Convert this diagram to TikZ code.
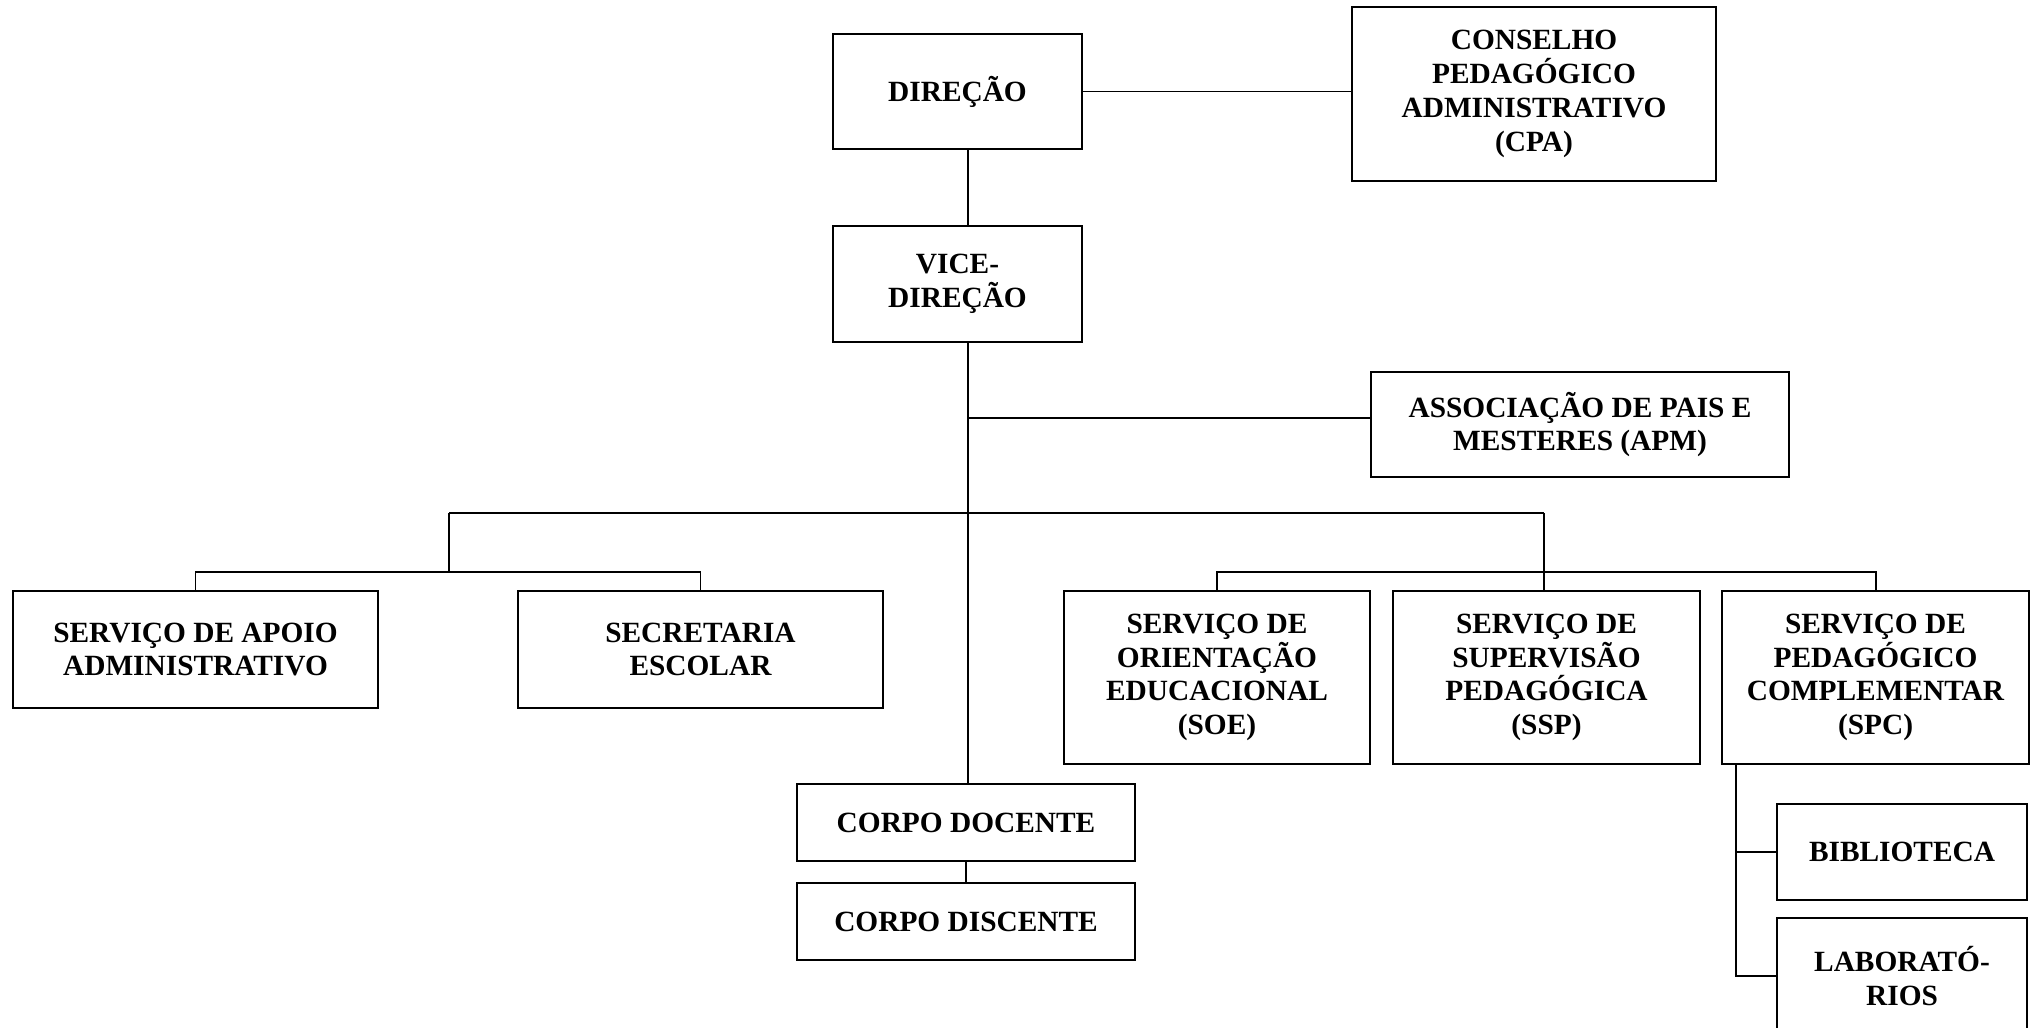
\documentclass[tikz,border=0pt]{standalone}
\usepackage{fontspec}
\setmainfont{Liberation Serif}
\begin{document}
\begin{tikzpicture}[x=0.01cm,y=-0.01cm,
  box/.style={draw,line width=0.7pt,inner sep=0pt,align=center,
    font=\fontsize{8.35}{9.6}\selectfont\bfseries},
  conn/.style={line width=0.55pt}]
\useasboundingbox (0,0) rectangle (2040,1027);
% boxes
\node[box,minimum width=2.49cm,minimum height=1.15cm] (dir) at (957.5,91.5) {DIREÇÃO};
\node[box,minimum width=3.64cm,minimum height=1.74cm] (cpa) at (1534,94) {CONSELHO\\PEDAGÓGICO\\ADMINISTRATIVO\\(CPA)};
\node[box,minimum width=2.49cm,minimum height=1.16cm] (vice) at (957.5,284) {VICE-\\DIREÇÃO};
\node[box,minimum width=4.18cm,minimum height=1.05cm] (apm) at (1580,424.5) {ASSOCIAÇÃO DE PAIS E\\MESTERES (APM)};
\node[box,minimum width=3.65cm,minimum height=1.17cm] (saa) at (195.5,649.5) {SERVIÇO DE APOIO\\ADMINISTRATIVO};
\node[box,minimum width=3.65cm,minimum height=1.17cm] (sec) at (700.5,649.5) {SECRETARIA\\ESCOLAR};
\node[box,minimum width=3.06cm,minimum height=1.73cm] (soe) at (1217,677.5) {SERVIÇO DE\\ORIENTAÇÃO\\EDUCACIONAL\\(SOE)};
\node[box,minimum width=3.07cm,minimum height=1.73cm] (ssp) at (1546.5,677.5) {SERVIÇO DE\\SUPERVISÃO\\PEDAGÓGICA\\(SSP)};
\node[box,minimum width=3.07cm,minimum height=1.73cm] (spc) at (1875.5,677.5) {SERVIÇO DE\\PEDAGÓGICO\\COMPLEMENTAR\\(SPC)};
\node[box,minimum width=3.38cm,minimum height=0.77cm] (doc) at (966,822.5) {CORPO DOCENTE};
\node[box,minimum width=3.38cm,minimum height=0.77cm] (dis) at (966,921.5) {CORPO DISCENTE};
\node[box,minimum width=2.50cm,minimum height=0.96cm] (bib) at (1902,852) {BIBLIOTECA};
\node[box,minimum width=2.50cm,minimum height=1.16cm] (lab) at (1902,976) {LABORATÓ-\\RIOS};
% connectors
\coordinate (sp) at (968,0);
\draw[conn] (dir.east) -- (dir.east -| cpa.west);
\draw[conn] (dir.south -| sp) -- (vice.north -| sp);
\draw[conn] (vice.south -| sp) -- (doc.north -| sp);
\coordinate (ja) at (968,418);
\draw[conn] (ja) -- (ja -| apm.west);
\coordinate (jl) at (449,513);
\coordinate (jr) at (1544,513);
\coordinate (jl2) at (449,572);
\coordinate (jr2) at (1544,572);
\draw[conn] (jl) -- (jr);
\draw[conn] (jl) -- (jl2);
\draw[conn] (saa.north) |- (jl2) -| (sec.north);
\draw[conn] (jr) -- (jr2);
\draw[conn] (soe.north) |- (jr2) -| (spc.north);
\draw[conn] (jr2) -- (jr2 |- ssp.north);
\draw[conn] (doc.south) -- (dis.north);
\coordinate (sv) at (1736,0);
\draw[conn] (spc.south -| sv) |- (lab.west);
\draw[conn] (sv |- bib.west) -- (bib.west);
\end{tikzpicture}
\end{document}
